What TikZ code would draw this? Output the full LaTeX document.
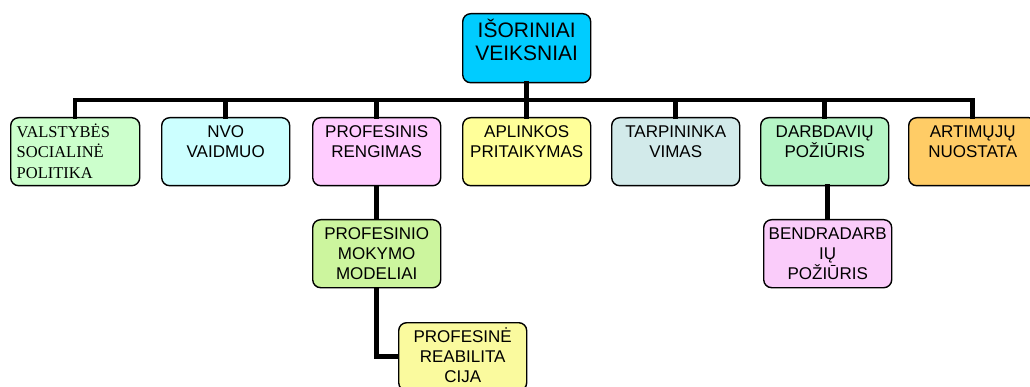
\documentclass[tikz,border=0pt]{standalone}
\usepackage{fontspec}
\setmainfont{Liberation Sans}
\newfontfamily\timesfont{Liberation Serif}
\definecolor{rootblue}{HTML}{00CCFF}
\definecolor{valstgreen}{HTML}{CCFFCC}
\definecolor{nvocyan}{HTML}{CCFFFF}
\definecolor{profpink}{HTML}{FFCCFF}
\definecolor{aplyellow}{HTML}{FFFF99}
\definecolor{tarpgray}{HTML}{D2EAEA}
\definecolor{darbgreen}{HTML}{B6F5C6}
\definecolor{artorange}{HTML}{FFCC66}
\definecolor{mokgreen}{HTML}{CCF59E}
\definecolor{reabyellow}{HTML}{FAFA9E}
\definecolor{bendpink}{HTML}{FACCFA}

\begin{document}
\begin{tikzpicture}[x=1pt,y=-1pt]
            \tikzstyle{every node}+=[inner sep=0pt]
            \tikzstyle{box}=[draw=black, line width=1.4pt, rounded corners=8pt,
              minimum width=128pt, minimum height=68pt, anchor=north west,
              text width=122pt, align=center, inner xsep=3pt, inner ysep=7pt,
              text height=12.5pt, text depth=41.5pt,
              font=\fontsize{17}{20}\selectfont]
            \tikzstyle{link}=[line width=4.5pt, line cap=rect]
            \useasboundingbox (0,0) rectangle (1030,387);
            % top
            \node [box, fill=rootblue, minimum height=69pt, inner ysep=9pt,
              text height=15pt, text depth=36pt,
              font=\fontsize{21}{23}\selectfont] (root) at (462,13) {IŠORINIAI\\VEIKSNIAI};
            % first row
            \node [box, fill=valstgreen, align=left, inner xsep=6pt, text width=117pt,
              font=\timesfont\fontsize{16.5}{20.5}\selectfont] (valst) at (10,117) {VALSTYBĖS\\SOCIALINĖ\\POLITIKA};
            \node [box, fill=nvocyan] (nvo) at (161,117) {NVO\\VAIDMUO};
            \node [box, fill=profpink] (profr) at (312,117) {PROFESINIS\\RENGIMAS};
            \node [box, fill=aplyellow] (apl) at (462,117) {APLINKOS\\PRITAIKYMAS};
            \node [box, fill=tarpgray] (tarp) at (611,117) {TARPININKA\\VIMAS};
            \node [box, fill=darbgreen] (darb) at (760,117) {DARBDAVIŲ\\POŽIŪRIS};
            \node [box, fill=artorange] (art) at (908,117) {ARTIMŲJŲ\\NUOSTATA};
            % lower rows
            \node [box, fill=mokgreen] (mok) at (312,219) {PROFESINIO\\MOKYMO\\MODELIAI};
            \node [box, fill=reabyellow] (reab) at (398,322) {PROFESINĖ\\REABILITA\\CIJA};
            \node [box, fill=bendpink] (bend) at (763,219) {BENDRADARB\\IŲ\\POŽIŪRIS};
            % connectors
            \coordinate (barl) at (75,100);
            \coordinate (barr) at (972,100);
            \draw [link] (barl) -- (barr);
            \draw [link] (root.south) -- (root.south |- barl);
            \foreach \n in {valst,nvo,profr,apl,tarp,darb,art}
              \draw [link] (\n.north) -- (\n.north |- barl);
            \draw [link, line cap=butt] (profr.south) -- (mok.north);
            \draw [link, line cap=butt] (darb.south) -- (darb.south -| bend.north) -- (bend.north);
            \draw [link, line cap=butt, line join=miter] (mok.south) |- (reab.west);
\end{tikzpicture}
\end{document}
